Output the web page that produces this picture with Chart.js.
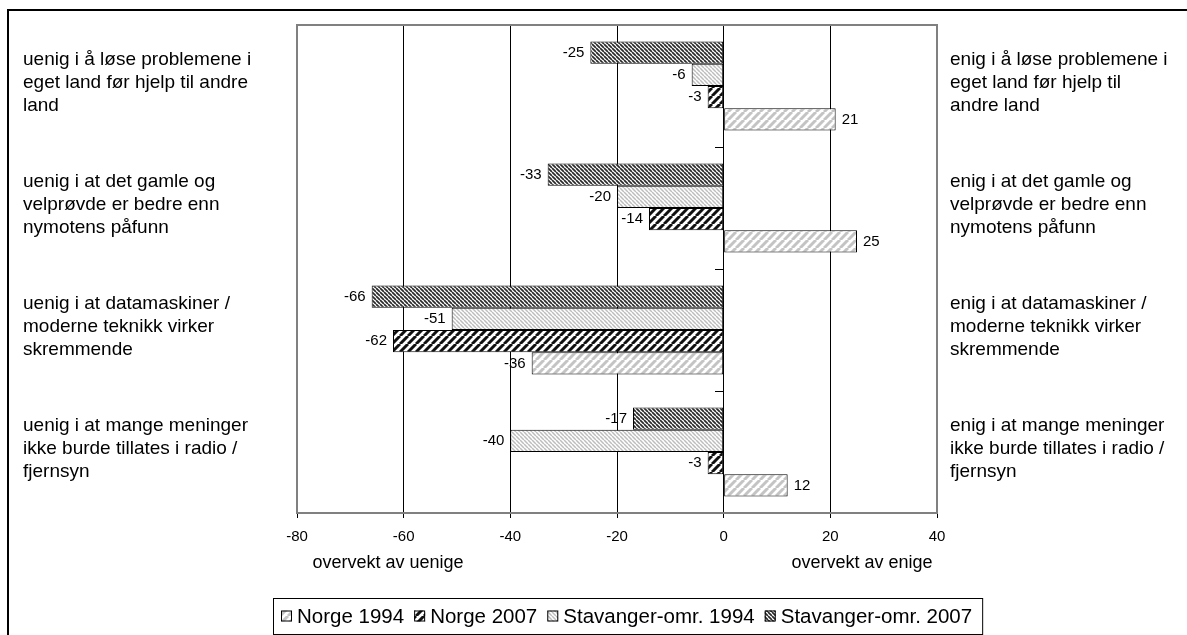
<!DOCTYPE html>
<html>
<head>
<meta charset="utf-8">
<script src="https://cdn.jsdelivr.net/npm/chart.js@4.4.0/dist/chart.umd.min.js"></script>
<style>
  html, body { margin: 0; padding: 0; background: #fff; }
  canvas { display: block; }
</style>
</head>
<body>
<canvas id="barChart" width="1187" height="635"></canvas>
<script>
const leftLabels = [
    ['uenig i å løse problemene i', 'eget land før hjelp til andre', 'land'],
    ['uenig i at det gamle og', 'velprøvde er bedre enn', 'nymotens påfunn'],
    ['uenig i at datamaskiner /', 'moderne teknikk virker', 'skremmende'],
    ['uenig i at mange meninger', 'ikke burde tillates i radio /', 'fjernsyn']
];
const rightLabels = [
    ['enig i å løse problemene i', 'eget land før hjelp til', 'andre land'],
    ['enig i at det gamle og', 'velprøvde er bedre enn', 'nymotens påfunn'],
    ['enig i at datamaskiner /', 'moderne teknikk virker', 'skremmende'],
    ['enig i at mange meninger', 'ikke burde tillates i radio /', 'fjernsyn']
];

// top to bottom inside each group
const seriesNames = ['Stavanger-omr. 2007', 'Stavanger-omr. 1994', 'Norge 2007', 'Norge 1994'];
const stavanger2007 = [-25, -33, -66, -17];
const stavanger1994 = [-6, -20, -51, -40];
const norge2007 = [-3, -14, -62, -3];
const norge1994 = [21, 25, -36, 12];

const xMin = -80, xMax = 40, xStep = 20;
const leftTitle = 'overvekt av uenige';
const rightTitle = 'overvekt av enige';

const FONT = '"Liberation Sans", Arial, sans-serif';

function makeStripes(color, period, width, forward) {
    const c = document.createElement('canvas');
    c.width = c.height = period;
    const g = c.getContext('2d');
    g.fillStyle = '#ffffff';
    g.fillRect(0, 0, period, period);
    g.strokeStyle = color;
    g.lineWidth = width;
    g.beginPath();
    [-period, 0, period].forEach(o => {
        if (forward) {
            g.moveTo(o, period);
            g.lineTo(o + period, 0);
        } else {
            g.moveTo(o, 0);
            g.lineTo(o + period, period);
        }
    });
    g.stroke();
    return g.createPattern(c, 'repeat');
}

const ctx = document.getElementById('barChart').getContext('2d');

const fills = [
    makeStripes('#2a2a2a', 4, 1.7, false),
    makeStripes('#bdbdbd', 4, 1.5, false),
    makeStripes('#111111', 8, 3, true),
    makeStripes('#c4c4c4', 8, 3, true)
];
const values = [stavanger2007, stavanger1994, norge2007, norge1994];

const framePlugin = {
    id: 'frame',
    beforeDraw(chart) {
        const c = chart.ctx;
        c.save();
        c.fillStyle = '#fff';
        c.fillRect(0, 0, chart.width, chart.height);
        c.strokeStyle = '#000';
        c.lineWidth = 2;
        c.beginPath();
        c.moveTo(8, chart.height);
        c.lineTo(8, 10);
        c.lineTo(chart.width, 10);
        c.stroke();
        c.restore();
    },
    beforeDatasetsDraw(chart) {
        const a = chart.chartArea, c = chart.ctx;
        c.save();
        c.strokeStyle = '#808080';
        c.lineWidth = 2;
        c.strokeRect(a.left, a.top, a.right - a.left, a.bottom - a.top);
        c.restore();
    }
};

const valueLabels = {
    id: 'valueLabels',
    afterDatasetsDraw(chart) {
        const c = chart.ctx;
        c.save();
        c.font = '15px ' + FONT;
        c.fillStyle = '#000';
        c.textBaseline = 'middle';
        chart.data.datasets.forEach((ds, i) => {
            chart.getDatasetMeta(i).data.forEach((bar, j) => {
                const v = ds.data[j];
                if (v < 0) {
                    c.textAlign = 'right';
                    c.fillText(String(v), bar.x - 6, bar.y);
                } else {
                    c.textAlign = 'left';
                    c.fillText(String(v), bar.x + 6, bar.y);
                }
            });
        });
        c.restore();
    }
};

const sideText = {
    id: 'sideText',
    afterDraw(chart) {
        const c = chart.ctx;
        const y = chart.scales.y;
        c.save();
        c.fillStyle = '#000';
        c.textBaseline = 'middle';
        c.font = '19px ' + FONT;
        c.textAlign = 'left';
        leftLabels.forEach((lines, i) => {
            const cy = y.getPixelForValue(i) - 3;
            lines.forEach((t, k) => c.fillText(t, 23, cy + (k - 1) * 23));
        });
        rightLabels.forEach((lines, i) => {
            const cy = y.getPixelForValue(i) - 3;
            lines.forEach((t, k) => c.fillText(t, 950, cy + (k - 1) * 23));
        });

        // axis side titles
        c.font = '18px ' + FONT;
        c.textAlign = 'center';
        c.fillText(leftTitle, 388, 563);
        c.fillText(rightTitle, 862, 563);

        // legend box
        const items = chart.data.datasets.map((ds, i) => ({ label: ds.label, fill: ds.backgroundColor })).reverse();
        c.font = '20.5px ' + FONT;
        const box = 11, gapBox = 5, gapItem = 10, padL = 8, padR = 10;
        const widths = items.map(it => c.measureText(it.label).width);
        let total = padL + padR + gapItem * (items.length - 1);
        widths.forEach(w => total += box + gapBox + w);
        const lx = Math.round(628 - total / 2), ly = 598, lh = 36;
        c.strokeStyle = '#000';
        c.lineWidth = 1;
        c.strokeRect(lx + 0.5, ly + 0.5, total, lh);
        let x = lx + padL;
        const cy = ly + lh / 2;
        c.textAlign = 'left';
        items.forEach((it, i) => {
            c.fillStyle = it.fill;
            c.fillRect(x, cy - box / 2, box, box);
            c.strokeStyle = '#000';
            c.strokeRect(x + 0.5, cy - box / 2 + 0.5, box - 1, box - 1);
            x += box + gapBox;
            c.fillStyle = '#000';
            c.fillText(it.label, x, cy + 1);
            x += widths[i] + gapItem;
        });
        c.restore();
    }
};

new Chart(ctx, {
    type: 'bar',
    data: {
        labels: leftLabels.map(l => l.join(' ')),
        datasets: seriesNames.map((name, i) => ({
            label: name,
            data: values[i],
            backgroundColor: fills[i],
            borderColor: '#000',
            borderWidth: 1,
            borderSkipped: false,
            categoryPercentage: 0.73,
            barPercentage: 1
        }))
    },
    options: {
        indexAxis: 'y',
        responsive: false,
        animation: false,
        layout: {
            padding: { left: 297, right: 250, top: 25, bottom: 0 }
        },
        plugins: {
            legend: { display: false },
            tooltip: { enabled: false }
        },
        scales: {
            x: {
                min: xMin,
                max: xMax,
                ticks: {
                    stepSize: xStep,
                    color: '#000',
                    padding: 10,
                    font: { family: FONT, size: 15 }
                },
                grid: {
                    color: '#000',
                    lineWidth: 1,
                    tickLength: 5
                },
                border: { color: '#000', width: 1 },
                afterFit(scale) { scale.height = 122; }
            },
            y: {
                position: { x: 0 },
                ticks: { display: false },
                grid: {
                    drawOnChartArea: false,
                    color: '#000',
                    tickLength: 8
                },
                border: { color: '#000', width: 1 }
            }
        }
    },
    plugins: [framePlugin, valueLabels, sideText]
});
</script>
</body>
</html>
